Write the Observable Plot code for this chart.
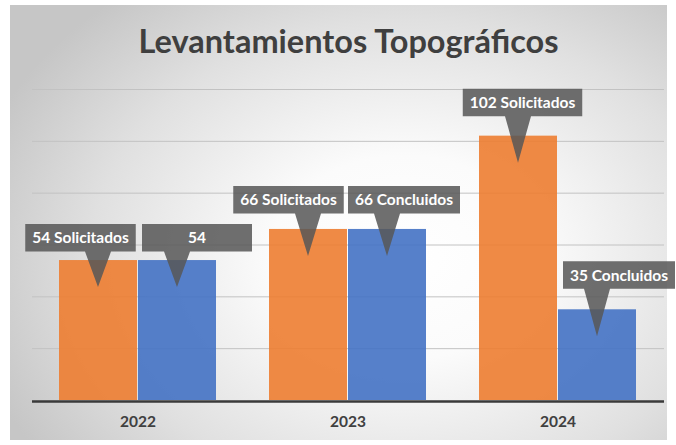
<!DOCTYPE html>
<html><head><meta charset="utf-8">
<script src="https://cdn.jsdelivr.net/npm/d3@7"></script>
<script src="https://cdn.jsdelivr.net/npm/@observablehq/plot@0.6"></script>
<style>
body{margin:0;background:#fff;}
#wrap{position:relative;width:676px;height:445px;overflow:hidden;font-family:Lato,sans-serif;}
#bg{position:absolute;left:10px;top:5px;width:657px;height:435px;
 background:radial-gradient(ellipse 68% 78% at 60% 58%, #ffffff 0%, #fbfbfb 30%, #e0e0e0 70%, #c6c6c6 100%);}
#title{position:absolute;left:0;top:25px;width:697px;text-align:center;font-family:Lato,sans-serif;font-weight:bold;font-size:32.5px;line-height:32px;color:#3f3f3f;margin:0;}
#chart{position:absolute;left:0;top:80px;}
</style></head>
<body><div id="wrap"><div id="bg"></div><h1 id="title">Levantamientos Topográficos</h1><div id="chart"></div></div>
<script>
const years = ["2022", "2023", "2024"];
const solicitados = [54, 66, 102];
const concluidos = [54, 66, 35];
const labelsSolicitados = ["54 Solicitados", "66 Solicitados", "102 Solicitados"];
const labelsConcluidos = ["54", "66 Concluidos", "35 Concluidos"];
const gridTicks = [20, 40, 60, 80, 100, 120];
const seriesNames = ["Solicitados", "Concluidos"];
const seriesColors = ["#ED7D31", "#4472C4"];
// callout placement (pixels): box-centre shift from bar centre, box-top shift from bar top
const calloutDx = {Solicitados: [-17.5, -19.5, 4.5], Concluidos: [20, 17, 22]};
const calloutDy = {Solicitados: [-36, -43, -47], Concluidos: [-36, -43, -48]};

const solRows = years.map((year, i) => ({year, series: "Solicitados", i, value: solicitados[i], label: labelsSolicitados[i]}));
const conRows = years.map((year, i) => ({year, series: "Concluidos", i, value: concluidos[i], label: labelsConcluidos[i]}));

function makePlot(bw) {
  return Plot.plot({
    width: 676, height: 365,
    marginTop: 9, marginBottom: 45, marginLeft: 32, marginRight: 12,
    style: {background: "transparent", fontFamily: "Lato, sans-serif", overflow: "visible"},
    x: {domain: years, paddingInner: 0.251, paddingOuter: 0.125, axis: null},
    y: {domain: [0, 120], axis: null},
    marks: [
      Plot.ruleY(gridTicks, {stroke: "#c2c2c2", strokeWidth: 1}),
      Plot.barY(solRows, {x: "year", y: "value", fill: seriesColors[0], fillOpacity: 0.9, insetRight: bw / 2 + 0.5}),
      Plot.barY(conRows, {x: "year", y: "value", fill: seriesColors[1], fillOpacity: 0.9, insetLeft: bw / 2 + 0.5}),
      Plot.ruleY([0], {stroke: "#3a3a3a", strokeWidth: 2.4, dy: 1}),
      Plot.text(years, {x: d => d, text: d => d, frameAnchor: "bottom", dy: 26, fontSize: 15.5, fontWeight: "bold", fill: "#404040"})
    ]
  });
}

const probe = makePlot(158);
const bw = probe.scale("x").bandwidth;
const plot = makePlot(bw);
document.getElementById("chart").appendChild(plot);

const xs = plot.scale("x"), ys = plot.scale("y");
const g = d3.select(plot).append("g").attr("font-family", "Lato, sans-serif");
[...solRows, ...conRows].forEach(c => {
  const left = c.series === "Solicitados";
  const cx = xs.apply(c.year) + (left ? bw / 4 - 0.25 : 3 * bw / 4 + 0.25);
  const top = ys.apply(c.value);
  const bx = cx + calloutDx[c.series][c.i];
  const bTop = top + calloutDy[c.series][c.i];
  const bh = 27.5;
  const grp = g.append("g");
  const path = grp.append("path");
  const t = grp.append("text")
    .attr("x", bx).attr("y", bTop + bh / 2).attr("dy", "0.36em")
    .attr("text-anchor", "middle").attr("fill", "#fff")
    .attr("font-size", 15.5).attr("font-weight", "bold").text(c.label);
  const tw = t.node().getComputedTextLength();
  const bwid = Math.max(110, tw + 14);
  const L = bx - bwid / 2, R = bx + bwid / 2, B = bTop + bh;
  const tipX = cx, tipY = top + 27;
  const b0 = Math.max(L + 2, tipX - 13), b1 = Math.min(R - 2, tipX + 13);
  path.attr("d", `M${L},${bTop}H${R}V${B}H${b1}L${tipX},${tipY}L${b0},${B}H${L}Z`)
    .attr("fill", "#575757").attr("fill-opacity", 0.86);
});
</script></body></html>
